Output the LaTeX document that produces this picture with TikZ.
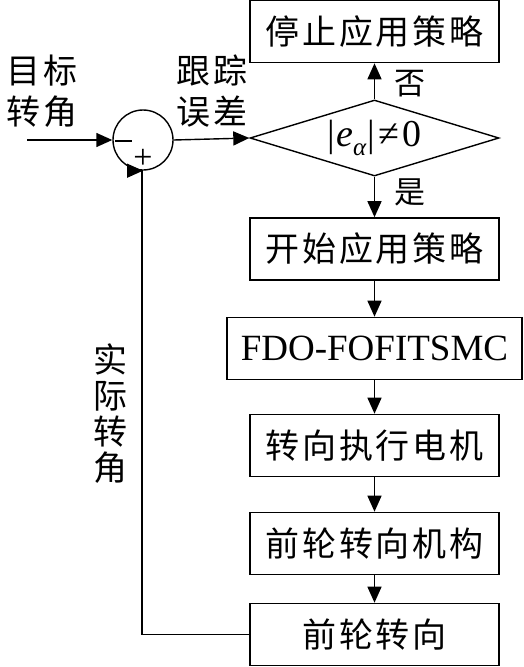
\documentclass[tikz,border=0pt]{standalone}
\usepackage{fontspec}
\usetikzlibrary{arrows.meta,shapes.geometric}
\newfontfamily\cjk[LetterSpace=8]{Noto Sans CJK SC}
\newfontfamily\tnr{Liberation Serif}
\begin{document}
\begin{tikzpicture}[x=1pt,y=-1pt,
  box/.style={draw,line width=1.6pt,minimum width=249pt,minimum height=62pt,inner sep=0pt,font=\fontsize{34}{36}\cjk},
  conn/.style={line width=1.4pt,-{Triangle[length=16pt,width=14pt]}},
  lab/.style={font=\fontsize{34}{41}\cjk,align=center,inner sep=0pt},
  small/.style={font=\fontsize{31}{33}\cjk,inner sep=0pt}]
\useasboundingbox (0,0) rectangle (523,667);
\node[box] (stop) at (374.5,31.5) {停止应用策略};
\node[draw,diamond,line width=1.4pt,aspect=3.3,minimum width=249pt,minimum height=76pt,inner sep=0pt,font=\fontsize{38}{40}\tnr] (dec) at (374.5,138)
  {|\kern1pt\textit{e}\raisebox{-0.22em}{\fontsize{25}{25}\selectfont\textit{α}}\kern1pt|\kern3pt≠\kern3pt0};
\node[box] (start) at (374.5,249) {开始应用策略};
\node[box,minimum width=295pt,font=\fontsize{37}{39}\tnr] (fdo) at (374.5,348.5) {FDO-FOFITSMC};
\node[box] (motor) at (374.5,445.5) {转向执行电机};
\node[box] (mech) at (374.5,543.5) {前轮转向机构};
\node[box] (wheel) at (374.5,634.5) {前轮转向};
\node[draw,circle,line width=1.4pt,minimum size=60pt,inner sep=0pt] (sum) at (143,140) {};
\node[inner sep=0pt] (minus) at (123.5,141) {\rule{17pt}{1.8pt}};
\node[font=\fontsize{34}{34}\tnr,inner sep=0pt] (plus) at (143,159) {+};
\coordinate (in) at (27,140);
\coordinate (corner) at (142,634.5);
\node[lab] (target) at (42,91) {目标\\转角};
\node[lab] (err) at (212,91) {跟踪\\误差};
\node[small] (no) at (410,84) {否};
\node[small] (yes) at (410,192) {是};
\node[lab,align=center,font=\fontsize{34}{36}\cjk] (act) at (110,414) {实\\际\\转\\角};
\draw[conn] (in) -- (sum.west);
\draw[conn] (sum.east) -- (dec.west);
\draw[conn] (dec.north) -- (stop.south);
\draw[conn] (dec.south) -- (start.north);
\draw[conn] (start.south) -- (fdo.north);
\draw[conn] (fdo.south) -- (motor.north);
\draw[conn] (motor.south) -- (mech.north);
\draw[conn] (mech.south) -- (wheel.north);
\draw[conn] (wheel.west) -- (corner) -- (corner |- sum.south) -- (sum.south);
\end{tikzpicture}
\end{document}
